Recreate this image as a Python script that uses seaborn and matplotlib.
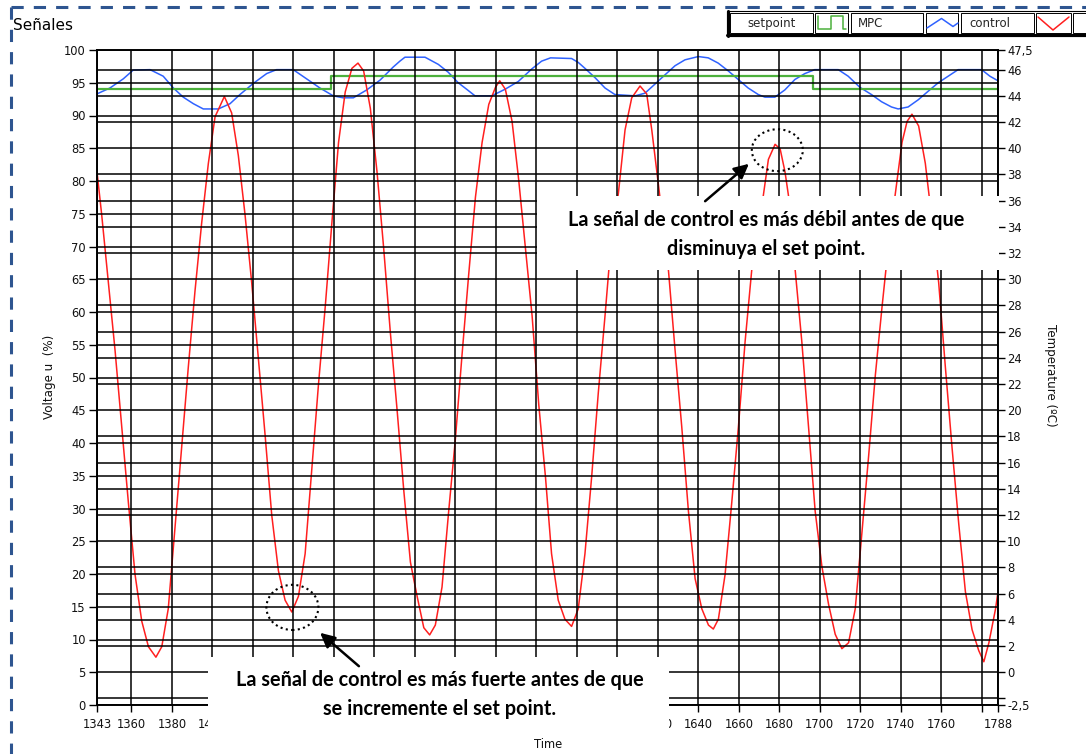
import numpy as np
import matplotlib
matplotlib.use("Agg")
import matplotlib.pyplot as plt
import seaborn as sns
from matplotlib.patches import Rectangle, Ellipse, FancyArrowPatch
from matplotlib.lines import Line2D
from matplotlib.ticker import FuncFormatter

# ---------------- data ----------------
ctrl_t = [1343.0, 1345.3, 1348.6, 1351.9, 1355.2, 1358.5, 1361.8, 1365.1, 1368.4, 1372.1,
          1375.0, 1378.2, 1381.5, 1384.8, 1388.1, 1391.4, 1394.7, 1398.0, 1401.3, 1405.9,
          1409.5, 1412.8, 1416.1, 1419.4, 1422.7, 1426.0, 1429.3, 1432.6, 1435.9, 1439.2,
          1442.5, 1445.8, 1449.1, 1452.4, 1455.7, 1459.0, 1462.3, 1465.6, 1468.9, 1471.9,
          1474.7, 1478.0, 1481.3, 1484.6, 1487.9, 1491.2, 1494.5, 1497.8, 1501.1, 1504.4,
          1507.3, 1510.1, 1513.4, 1516.7, 1520.0, 1523.3, 1526.6, 1529.9, 1533.2, 1536.5,
          1539.8, 1541.9, 1544.7, 1548.0, 1551.3, 1554.6, 1557.9, 1561.2, 1564.5, 1567.5,
          1570.8, 1574.1, 1577.4, 1580.7, 1584.0, 1587.3, 1590.6, 1593.9, 1597.2, 1600.5,
          1603.8, 1607.1, 1611.2, 1614.5, 1617.0, 1620.3, 1625.2, 1628.5, 1631.8, 1635.1,
          1638.4, 1641.7, 1645.0, 1647.4, 1649.9, 1653.2, 1656.5, 1659.8, 1663.1, 1666.4,
          1669.2, 1672.1, 1674.6, 1677.9, 1680.4, 1682.8, 1684.5, 1687.8, 1691.1, 1694.4,
          1697.7, 1701.0, 1704.3, 1707.6, 1710.9, 1714.2, 1717.5, 1720.8, 1724.1, 1727.4,
          1730.7, 1734.0, 1737.3, 1740.6, 1743.1, 1745.5, 1748.8, 1752.1, 1755.4, 1758.7,
          1762.0, 1765.3, 1768.6, 1771.9, 1775.2, 1778.5, 1781.0, 1783.5, 1786.8, 1788.0]
ctrl_v = [81.4, 74.9, 64.5, 54.2, 42.5, 30.9, 19.9, 12.8, 8.9, 7.3,
          8.9, 14.7, 27.0, 39.3, 51.6, 63.2, 73.6, 82.7, 89.8, 92.9,
          90.4, 83.9, 74.9, 64.5, 52.9, 41.3, 29.0, 20.5, 16.0, 14.2,
          16.6, 23.1, 36.1, 49.0, 60.7, 73.6, 85.9, 93.6, 97.2, 98.0,
          96.8, 91.1, 81.4, 69.7, 56.8, 45.1, 32.8, 21.8, 16.6, 11.8,
          10.7, 12.2, 18.0, 29.6, 40.6, 53.5, 65.8, 77.5, 85.9, 91.7,
          94.3, 95.3, 94.0, 89.1, 80.1, 69.7, 59.4, 45.8, 34.8, 23.1,
          16.0, 13.1, 12.0, 14.7, 23.1, 34.8, 47.7, 59.4, 71.7, 78.1,
          87.8, 92.7, 94.5, 93.3, 87.8, 79.4, 66.5, 54.2, 42.5, 29.6,
          19.3, 14.7, 12.2, 11.6, 13.1, 19.9, 30.9, 42.5, 55.5, 66.5,
          72.5, 77.8, 83.3, 85.6, 84.9, 81.4, 77.8, 66.5, 55.5, 42.5,
          29.6, 21.2, 15.4, 10.8, 8.6, 9.5, 14.7, 26.4, 38.0, 50.3,
          60.7, 70.5, 78.1, 85.9, 89.1, 90.2, 88.4, 82.7, 74.0, 64.5,
          51.6, 39.3, 27.7, 17.3, 11.5, 8.3, 6.6, 9.5, 14.7, 17.3]

mpc_t = [1343.0, 1349.4, 1356.0, 1360.9, 1369.2, 1375.7, 1380.7, 1385.6, 1390.6, 1395.5,
         1402.9, 1408.7, 1413.6, 1420.2, 1426.8, 1431.7, 1439.9, 1446.5, 1453.1, 1459.7,
         1464.6, 1469.6, 1476.2, 1482.8, 1489.3, 1492.6, 1495.1, 1505.0, 1511.6, 1516.5,
         1521.4, 1525.6, 1529.7, 1537.9, 1544.5, 1551.1, 1557.7, 1562.6, 1567.0, 1577.4,
         1580.7, 1584.0, 1588.9, 1593.9, 1598.8, 1608.7, 1613.6, 1618.6, 1623.5, 1628.5,
         1633.4, 1640.0, 1644.9, 1649.8, 1654.8, 1659.7, 1664.6, 1669.6, 1672.9, 1677.8,
         1682.7, 1687.7, 1692.6, 1697.5, 1709.1, 1714.0, 1719.8, 1725.5, 1730.5, 1735.4,
         1738.7, 1743.6, 1748.6, 1753.5, 1758.5, 1763.4, 1768.3, 1779.9, 1784.0, 1788.0]
mpc_temp = [44.15, 44.6, 45.3, 45.97, 46.0, 45.5, 44.6, 43.9, 43.4, 43.0,
            43.0, 43.4, 44.1, 44.95, 45.7, 46.0, 46.0, 45.3, 44.6, 44.0,
            43.85, 43.85, 44.45, 45.2, 46.2, 46.65, 46.95, 46.95, 46.4, 45.8,
            45.0, 44.5, 44.0, 44.0, 44.5, 45.1, 46.05, 46.65, 46.9, 46.85,
            46.55, 46.1, 45.4, 44.6, 44.1, 44.0, 44.2, 44.9, 45.6, 46.3,
            46.75, 47.0, 46.9, 46.5, 45.9, 45.25, 44.6, 44.1, 43.9, 43.9,
            44.45, 45.25, 45.7, 46.0, 46.0, 45.5, 44.65, 44.1, 43.55, 43.15,
            43.0, 43.15, 43.7, 44.35, 45.0, 45.5, 46.0, 46.0, 45.5, 45.15]

sp_t = [1343.0, 1458.4, 1696.4, 1788.0]
sp_temp = [44.5, 45.5, 44.5, 44.5]

x_ticks = [1343, 1360, 1380, 1400, 1420, 1440, 1460, 1480, 1500, 1520, 1540, 1560,
           1580, 1600, 1620, 1640, 1660, 1680, 1700, 1720, 1740, 1760, 1780, 1788]
x_labels = [str(v) if v != 1780 else "" for v in x_ticks]
v_ticks = list(range(0, 101, 5))
t_ticks = [-2.5, -2] + list(range(0, 47, 2)) + [47.5]
t_grid = list(range(-2, 47, 2))
V_LIM = (0, 100)
T_LIM = (-2.5, 47.5)

legend_names = ["setpoint", "MPC", "control"]
note_top = ["La señal de control es más débil antes de que", "disminuya el set point."]
note_bottom = ["La señal de control es más fuerte antes de que", "se incremente el set point."]

# ---------------- styling ----------------
sns.set_style("white")
plt.rcParams["font.family"] = ["DejaVu Sans"]

RED = "#ff1f1f"
BLUE = "#2f62ff"
GREEN = "#4cb03c"
NAVY = "#2e5590"

W, H = 1086, 754
fig = plt.figure(figsize=(W / 100, H / 100), dpi=100, facecolor="white")


def fx(px):
    return px / W


def fy(py):
    return 1 - py / H


ax = fig.add_axes([fx(97), fy(705), fx(998) - fx(97), fy(50) - fy(705)])
ax2 = ax.twinx()
# temperature axes underneath, voltage axes (with all the grid) on top
ax2.set_zorder(0)
ax.set_zorder(1)
ax.patch.set_visible(False)
ax2.patch.set_visible(True)
ax2.patch.set_facecolor("white")

sns.lineplot(x=mpc_t, y=mpc_temp, ax=ax2, color=BLUE, linewidth=1.1,
             estimator=None, sort=False)
sns.lineplot(x=sp_t, y=sp_temp, ax=ax2, color=GREEN, linewidth=1.6,
             drawstyle="steps-post", estimator=None, sort=False)
sns.lineplot(x=ctrl_t, y=ctrl_v, ax=ax, color=RED, linewidth=1.1,
             estimator=None, sort=False)

ax.set_xlim(1343, 1788)
ax.set_ylim(*V_LIM)
ax2.set_ylim(*T_LIM)
ax.set_xlabel("")
ax.set_ylabel("")
ax2.set_ylabel("")

ax.set_xticks(x_ticks, x_labels)
ax.set_yticks(v_ticks, [str(v) for v in v_ticks])
# temperature gridlines expressed in voltage-axis units
t_grid_in_v = [(t - T_LIM[0]) / (T_LIM[1] - T_LIM[0]) * (V_LIM[1] - V_LIM[0]) + V_LIM[0]
               for t in t_grid]
ax.set_yticks(t_grid_in_v, minor=True)

ax.set_axisbelow(False)
ax.grid(True, which="major", axis="both", color="black", linewidth=1.1)
ax.grid(True, which="minor", axis="y", color="black", linewidth=1.1)
ax.tick_params(axis="y", which="minor", length=0)
ax.tick_params(axis="y", which="major", left=True, length=6, width=1.0,
               color="black", labelsize=8.3, pad=2, labelcolor="#111111")
ax.tick_params(axis="x", which="major", bottom=True, length=5, width=1.0,
               color="black", labelsize=8.3, pad=4, labelcolor="#111111")


def t_fmt(v, pos=None):
    if abs(v + 2) < 1e-9:
        return ""
    return ("%g" % v).replace(".", ",")


ax2.set_yticks(t_ticks)
ax2.yaxis.set_major_formatter(FuncFormatter(t_fmt))
ax2.tick_params(axis="y", which="major", right=True, length=5, width=1.0,
                color="black", labelsize=8.3, pad=1.5, labelcolor="#111111")
ax2.grid(False)

for a in (ax, ax2):
    for s in a.spines.values():
        s.set_color("black")
        s.set_linewidth(1.2)

# ellipses around the highlighted extrema
for (cx, cy, w, h) in [(1679.0, 84.7, 25.2, 6.4), (1439.5, 14.9, 25.7, 6.9)]:
    ax.add_patch(Ellipse((cx, cy), w, h, fill=False, edgecolor="black",
                         linestyle=(0, (1, 1.6)), linewidth=1.5, zorder=4))

# axis labels and title
fig.text(fx(50), fy(377), "Voltage u  (%)", rotation=90, ha="center", va="center",
         fontsize=8.6, color="#111111")
fig.text(fx(1051), fy(375), "Temperature (ºC)", rotation=-90, ha="center", va="center",
         fontsize=8.6, color="#111111")
fig.text(fx(548), fy(744), "Time", ha="center", va="center", fontsize=8.3, color="#111111")
fig.text(fx(13), fy(25), "Señales", ha="left", va="center", fontsize=11, color="black")

# dashed frame
fig.add_artist(Line2D([fx(11), fx(11)], [fy(7), 0], color=NAVY, linewidth=2.2,
                      linestyle=(0, (4, 3.3))))
fig.add_artist(Line2D([fx(11), 1], [fy(6.5), fy(6.5)], color=NAVY, linewidth=2.2,
                      linestyle=(0, (4, 3.3))))

# legend (LabVIEW style plot legend)
def frect(x0, y0, x1, y1, **kw):
    r = Rectangle((fx(x0), fy(y1)), fx(x1) - fx(x0), fy(y0) - fy(y1),
                  transform=fig.transFigure, **kw)
    fig.add_artist(r)
    return r


frect(727, 11, 1090, 36, facecolor="white", edgecolor="black", linewidth=0.8, zorder=5)
fig.add_artist(Line2D([fx(728), fx(728)], [fy(11), fy(36)], color="black", linewidth=2.2, zorder=6))
fig.add_artist(Line2D([fx(727), 1], [fy(35), fy(35)], color="black", linewidth=2.2, zorder=6))
for (x0, x1) in [(730, 813), (815, 848), (851, 923), (925.5, 958), (961, 1034),
                 (1036, 1071), (1073, 1090)]:
    frect(x0, 13, x1, 33, facecolor="white", edgecolor="black", linewidth=0.7, zorder=6)

fig.text(fx(772), fy(23.5), legend_names[0], ha="center", va="center", fontsize=8.5, zorder=7)
fig.text(fx(858), fy(23.5), legend_names[1], ha="left", va="center", fontsize=8.5, zorder=7)
fig.text(fx(969), fy(23.5), legend_names[2], ha="left", va="center", fontsize=8.5, zorder=7)

icon_green = ([818, 818, 831, 831, 843, 843, 846], [16, 29, 29, 16, 16, 29, 29])
icon_blue = ([927, 941.5, 953, 958], [28, 18.5, 26.5, 23])
icon_red = ([1038, 1053, 1069], [17, 30, 17])
for (xs, ys), col in [(icon_green, GREEN), (icon_blue, BLUE), (icon_red, RED)]:
    fig.add_artist(Line2D([fx(v) for v in xs], [fy(v) for v in ys], color=col,
                          linewidth=1.1, zorder=8))

# annotation boxes
frect(537, 196, 999, 270, facecolor="white", edgecolor="none", zorder=10)
frect(208, 657, 669, 732, facecolor="white", edgecolor="none", zorder=10)

note_font = dict(family=["Lato", "DejaVu Sans"], weight="bold", fontsize=14.3,
                 ha="center", va="center", color="black", zorder=11)
fig.text(fx(766), fy(220), note_top[0], **note_font)
fig.text(fx(766), fy(249), note_top[1], **note_font)
fig.text(fx(440), fy(680), note_bottom[0], **note_font)
fig.text(fx(440), fy(709), note_bottom[1], **note_font)

for (p0, p1) in [((703, 203), (751, 162)), ((361, 668), (318, 631))]:
    arr = FancyArrowPatch((fx(p0[0]), fy(p0[1])), (fx(p1[0]), fy(p1[1])),
                          transform=fig.transFigure, arrowstyle="-|>",
                          mutation_scale=22, linewidth=1.8, color="black", zorder=12)
    fig.add_artist(arr)

fig.savefig("out.png", dpi=100, facecolor="white")
